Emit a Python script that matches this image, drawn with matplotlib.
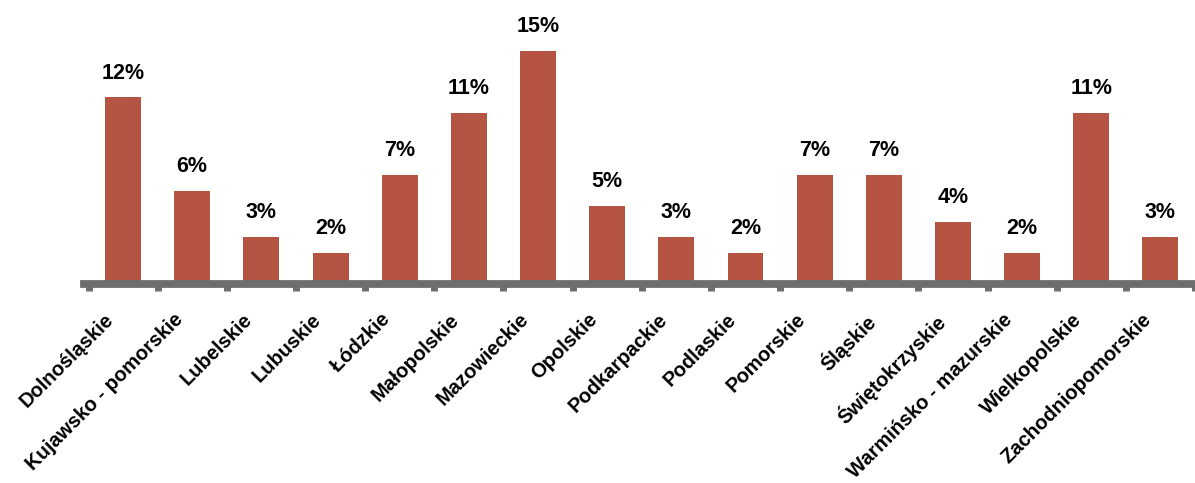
import matplotlib.pyplot as plt
import matplotlib.transforms as mtransforms
import numpy as np

regions = ['Dolnośląskie', 'Kujawsko - pomorskie', 'Lubelskie', 'Lubuskie', 'Łódzkie',
           'Małopolskie', 'Mazowieckie', 'Opolskie', 'Podkarpackie', 'Podlaskie',
           'Pomorskie', 'Śląskie', 'Świętokrzyskie', 'Warmińsko - mazurskie',
           'Wielkopolskie', 'Zachodniopomorskie']
shares = [12, 6, 3, 2, 7, 11, 15, 5, 3, 2, 7, 7, 4, 2, 11, 3]

plt.rcParams['font.family'] = ['Liberation Sans', 'DejaVu Sans']

W, H = 1195, 483
base = 283.5      # baseline, px from top
px_cat = 69.5     # px per category
px_pct = 15.5     # px per percent
x0 = 123.7        # centre of first bar, px

fig = plt.figure(figsize=(W / 100, H / 100), dpi=100)
ax = fig.add_axes([0, (H - base) / H, 1, base / H])

x = np.arange(len(regions))
ax.set_xlim(-x0 / px_cat, (W - x0) / px_cat)
ax.set_ylim(0, base / px_pct)

ax.bar(x, shares, width=0.52, color='#B55442', zorder=2)
for xi, v in zip(x, shares):
    ax.annotate(f'{v}%', (xi, v), xytext=(0, 10), textcoords='offset points',
                ha='center', va='bottom', fontsize=15.5, fontweight='bold', color='black')

for side in ['top', 'right', 'left']:
    ax.spines[side].set_visible(False)
ax.spines['bottom'].set_color('#6E6E6E')
ax.spines['bottom'].set_linewidth(5.6)
ax.spines['bottom'].set_bounds(-0.56, 16)
ax.spines['bottom'].set_zorder(3)
ax.set_yticks([])

ax.set_xticks(x)
ax.set_xticklabels(regions, rotation=45, ha='right', va='top', rotation_mode='anchor',
                   fontsize=14.5, fontweight='bold')
ax.tick_params(axis='x', which='major', length=0, pad=19)
offset = mtransforms.ScaledTranslation(-19 / 100, 0, fig.dpi_scale_trans)
for lbl in ax.get_xticklabels():
    lbl.set_transform(lbl.get_transform() + offset)

ax.set_xticks(np.arange(-0.5, len(regions), 1), minor=True)
ax.tick_params(axis='x', which='minor', length=4.7, width=5, color='#6E6E6E', direction='out')

fig.savefig('out.png', dpi=100)
